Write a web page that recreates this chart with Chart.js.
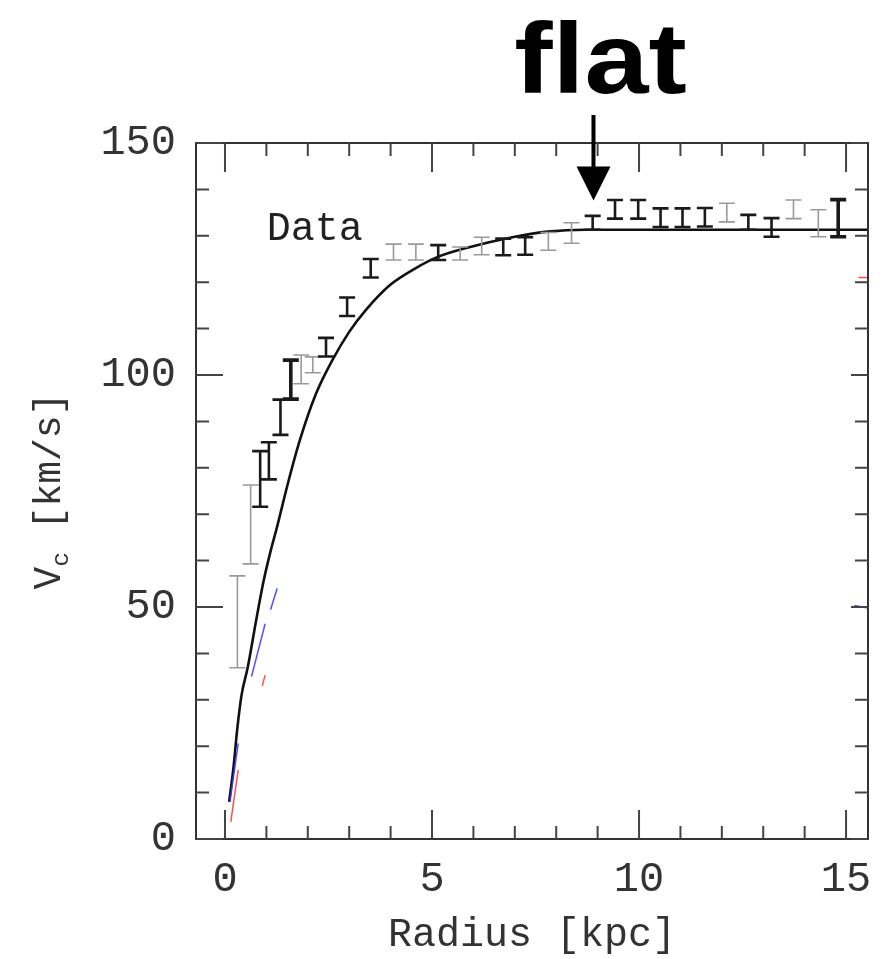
<!DOCTYPE html>
<html lang="en">
<head>
<meta charset="UTF-8">
<title>Rotation curve</title>
<script src="https://cdn.jsdelivr.net/npm/chart.js"></script>
<style>
  html, body { margin: 0; padding: 0; background: #fff; }
  canvas { display: block; }
</style>
</head>
<body>
<canvas id="rc" width="885" height="959"></canvas>
<script>
// observed points: radius (kpc), velocity (km/s), half error bar
const dataR = [0.30, 0.62, 0.85, 1.06, 1.34, 1.59, 1.84, 2.12, 2.44, 2.95, 3.52,
  4.07, 4.61, 5.15, 5.68, 6.20, 6.72, 7.25, 7.81, 8.37, 8.88, 9.42, 9.98,
  10.52, 11.05, 11.59, 12.12, 12.64, 13.20, 13.73, 14.33, 14.81];
const dataV = [46.8, 67.8, 77.6, 81.5, 90.9, 99.0, 101.2, 102.2, 106.0, 114.7, 123.0,
  126.5, 126.5, 126.4, 126.2, 127.8, 127.6, 127.8, 128.8, 130.6, 132.8, 135.7, 135.7,
  133.9, 133.9, 134.0, 135.0, 132.9, 131.8, 135.7, 132.7, 133.8];
const dataE = [9.9, 8.5, 6.0, 4.0, 3.8, 4.2, 3.1, 1.7, 2.0, 2.0, 2.0,
  1.7, 1.7, 1.6, 1.4, 1.9, 1.8, 1.9, 1.9, 2.2, 1.5, 2.0, 2.0,
  2.0, 2.0, 2.0, 2.0, 1.6, 2.0, 2.0, 2.9, 4.0];
// how dark each bar came out in the scan
const dataTone = ['g', 'g', 'k', 'k', 'k', 'K', 'g', 'g', 'k', 'k', 'k',
  'g', 'g', 'k', 'g', 'g', 'k', 'k', 'g', 'g', 'k', 'k', 'k',
  'k', 'k', 'k', 'g', 'k', 'k', 'g', 'g', 'K'];

// model curve
const modelR = [0.1, 0.2, 0.3, 0.4, 0.55, 0.75, 0.93, 1.1, 1.25, 1.53, 1.81, 2.2, 2.6,
  3.0, 3.4, 4.0, 4.6, 5.1, 5.8, 7.0, 7.8, 8.7, 10, 12, 14, 15.6];
const modelV = [8, 15, 24, 31, 37, 47, 55.5, 62, 67, 77, 86, 96, 103.3,
  109.3, 114, 119.5, 123, 125.3, 127.3, 129.8, 130.9, 131.3, 131.3, 131.3, 131.3, 131.3];

// leftover bits of the other components
const diskR = [0.12, 0.32, null, 0.64, 0.97, null, 1.10, 1.26, null, 15.2, 15.6];
const diskV = [8, 20.6, null, 35, 46.4, null, 49.4, 54, null, 50.3, 49.7];
const gasR = [0.14, 0.32, null, 0.90, 0.97, null, 15.3, 15.6];
const gasV = [3.7, 14.9, null, 33, 35.3, null, 121, 121];

const xTicks = [0, 5, 10, 15];
const yTicks = [0, 50, 100, 150];

const flatArrowX = 8.9;
const flatArrowTip = 137.6;

const mono = '"Liberation Mono", "Courier New", monospace';

function pts(xs, ys) {
  return xs.map((x, i) => ({ x: x, y: ys[i] }));
}

const framePlugin = {
  id: 'frame',
  afterDatasetsDraw(chart) {
    const { ctx, scales: { x, y } } = chart;
    ctx.save();
    dataR.forEach((r, i) => {
      const px = x.getPixelForValue(r);
      const top = y.getPixelForValue(dataV[i] + dataE[i]);
      const bot = y.getPixelForValue(dataV[i] - dataE[i]);
      const t = dataTone[i];
      ctx.strokeStyle = t === 'g' ? '#9a9a9a' : '#1a1a1a';
      ctx.lineWidth = t === 'g' ? 1.6 : (t === 'K' ? 3.6 : 2.6);
      ctx.beginPath();
      ctx.moveTo(px, top); ctx.lineTo(px, bot);
      ctx.moveTo(px - 8, top); ctx.lineTo(px + 8, top);
      ctx.moveTo(px - 8, bot); ctx.lineTo(px + 8, bot);
      ctx.stroke();
    });
    ctx.restore();
  },
  afterDraw(chart) {
    const { ctx, chartArea: a, scales: { x, y } } = chart;
    ctx.save();
    // box
    ctx.strokeStyle = '#333';
    ctx.lineWidth = 2;
    ctx.strokeRect(a.left, a.top, a.right - a.left, a.bottom - a.top);

    // inward ticks
    ctx.strokeStyle = '#444';
    ctx.beginPath();
    for (let v = 0; v <= 15; v++) {
      const px = x.getPixelForValue(v);
      const len = v % 5 === 0 ? 29 : 13;
      ctx.moveTo(px, a.bottom); ctx.lineTo(px, a.bottom - len);
      ctx.moveTo(px, a.top); ctx.lineTo(px, a.top + len);
    }
    for (let v = 0; v <= 150; v += 10) {
      const py = y.getPixelForValue(v);
      const major = v % 50 === 0;
      ctx.moveTo(a.left, py); ctx.lineTo(a.left + (major ? 27 : 13), py);
      ctx.moveTo(a.right, py); ctx.lineTo(a.right - (major ? 17 : 13), py);
    }
    ctx.stroke();

    // "Data" label
    ctx.fillStyle = '#222';
    ctx.font = '40px ' + mono;
    ctx.textAlign = 'left';
    ctx.textBaseline = 'alphabetic';
    ctx.fillText('Data', x.getPixelForValue(1.01), y.getPixelForValue(129));

    // y title with subscript
    ctx.save();
    ctx.translate(48, (a.top + a.bottom) / 2);
    ctx.rotate(-Math.PI / 2);
    ctx.fillStyle = '#333';
    const big = '38px ' + mono, small = '24px ' + mono;
    ctx.font = big;
    const wV = ctx.measureText('V').width;
    const wRest = ctx.measureText(' [km/s]').width;
    ctx.font = small;
    const wc = ctx.measureText('c').width;
    let cx = -(wV + wc + wRest) / 2;
    ctx.textBaseline = 'alphabetic';
    ctx.font = big;
    ctx.fillText('V', cx, 12);
    ctx.font = small;
    ctx.fillText('c', cx + wV, 20);
    ctx.font = big;
    ctx.fillText(' [km/s]', cx + wV + wc, 12);
    ctx.restore();

    // arrow + "flat"
    const ax = x.getPixelForValue(flatArrowX);
    const tip = y.getPixelForValue(flatArrowTip);
    ctx.fillStyle = '#000';
    ctx.fillRect(ax - 2, a.top - 28, 4, tip - 33 - (a.top - 28));
    ctx.beginPath();
    ctx.moveTo(ax - 17, tip - 34);
    ctx.lineTo(ax + 17, tip - 34);
    ctx.lineTo(ax, tip);
    ctx.closePath();
    ctx.fill();

    ctx.save();
    ctx.translate(ax + 7, a.top - 50);
    ctx.scale(1.15, 1);
    ctx.font = 'bold 100px "Liberation Sans", Arial, sans-serif';
    ctx.textAlign = 'center';
    ctx.fillText('flat', 0, 0);
    ctx.restore();

    ctx.restore();
  }
};

new Chart(document.getElementById('rc'), {
  type: 'scatter',
  data: {
    datasets: [
      {
        label: 'Disk',
        data: pts(diskR, diskV),
        showLine: true,
        borderColor: 'rgba(60, 60, 255, 0.9)',
        borderWidth: 1.5,
        pointRadius: 0
      },
      {
        label: 'Gas',
        data: pts(gasR, gasV),
        showLine: true,
        borderColor: 'rgba(255, 60, 60, 0.9)',
        borderWidth: 1.5,
        pointRadius: 0
      },
      {
        label: 'Model',
        data: pts(modelR, modelV),
        showLine: true,
        borderColor: '#111',
        borderWidth: 2.6,
        pointRadius: 0,
        cubicInterpolationMode: 'monotone'
      },
      {
        label: 'Data',
        data: pts(dataR, dataV),
        showLine: false,
        pointRadius: 0
      }
    ]
  },
  options: {
    responsive: false,
    animation: false,
    devicePixelRatio: 1,
    layout: { padding: { top: 143, right: 17, left: 0, bottom: 0 } },
    plugins: { legend: { display: false }, tooltip: { enabled: false } },
    scales: {
      x: {
        type: 'linear',
        min: -0.7,
        max: 15.53,
        afterBuildTicks: s => { s.ticks = xTicks.map(v => ({ value: v })); },
        afterFit: s => { s.height = 120; s.paddingLeft = 0; s.paddingRight = 0; },
        grid: { display: false, drawTicks: false },
        border: { display: false },
        ticks: { font: { family: mono, size: 42 }, color: '#333', padding: 16, maxRotation: 0 },
        title: { display: true, text: 'Radius [kpc]', font: { family: mono, size: 40 }, color: '#333', padding: 0 }
      },
      y: {
        type: 'linear',
        min: 0,
        max: 150,
        afterBuildTicks: s => { s.ticks = yTicks.map(v => ({ value: v })); },
        afterFit: s => { s.width = 196; s.paddingTop = 0; s.paddingBottom = 0; },
        grid: { display: false, drawTicks: false },
        border: { display: false },
        ticks: { font: { family: mono, size: 42 }, color: '#333', padding: 20 }
      }
    }
  },
  plugins: [framePlugin]
});
</script>
</body>
</html>
